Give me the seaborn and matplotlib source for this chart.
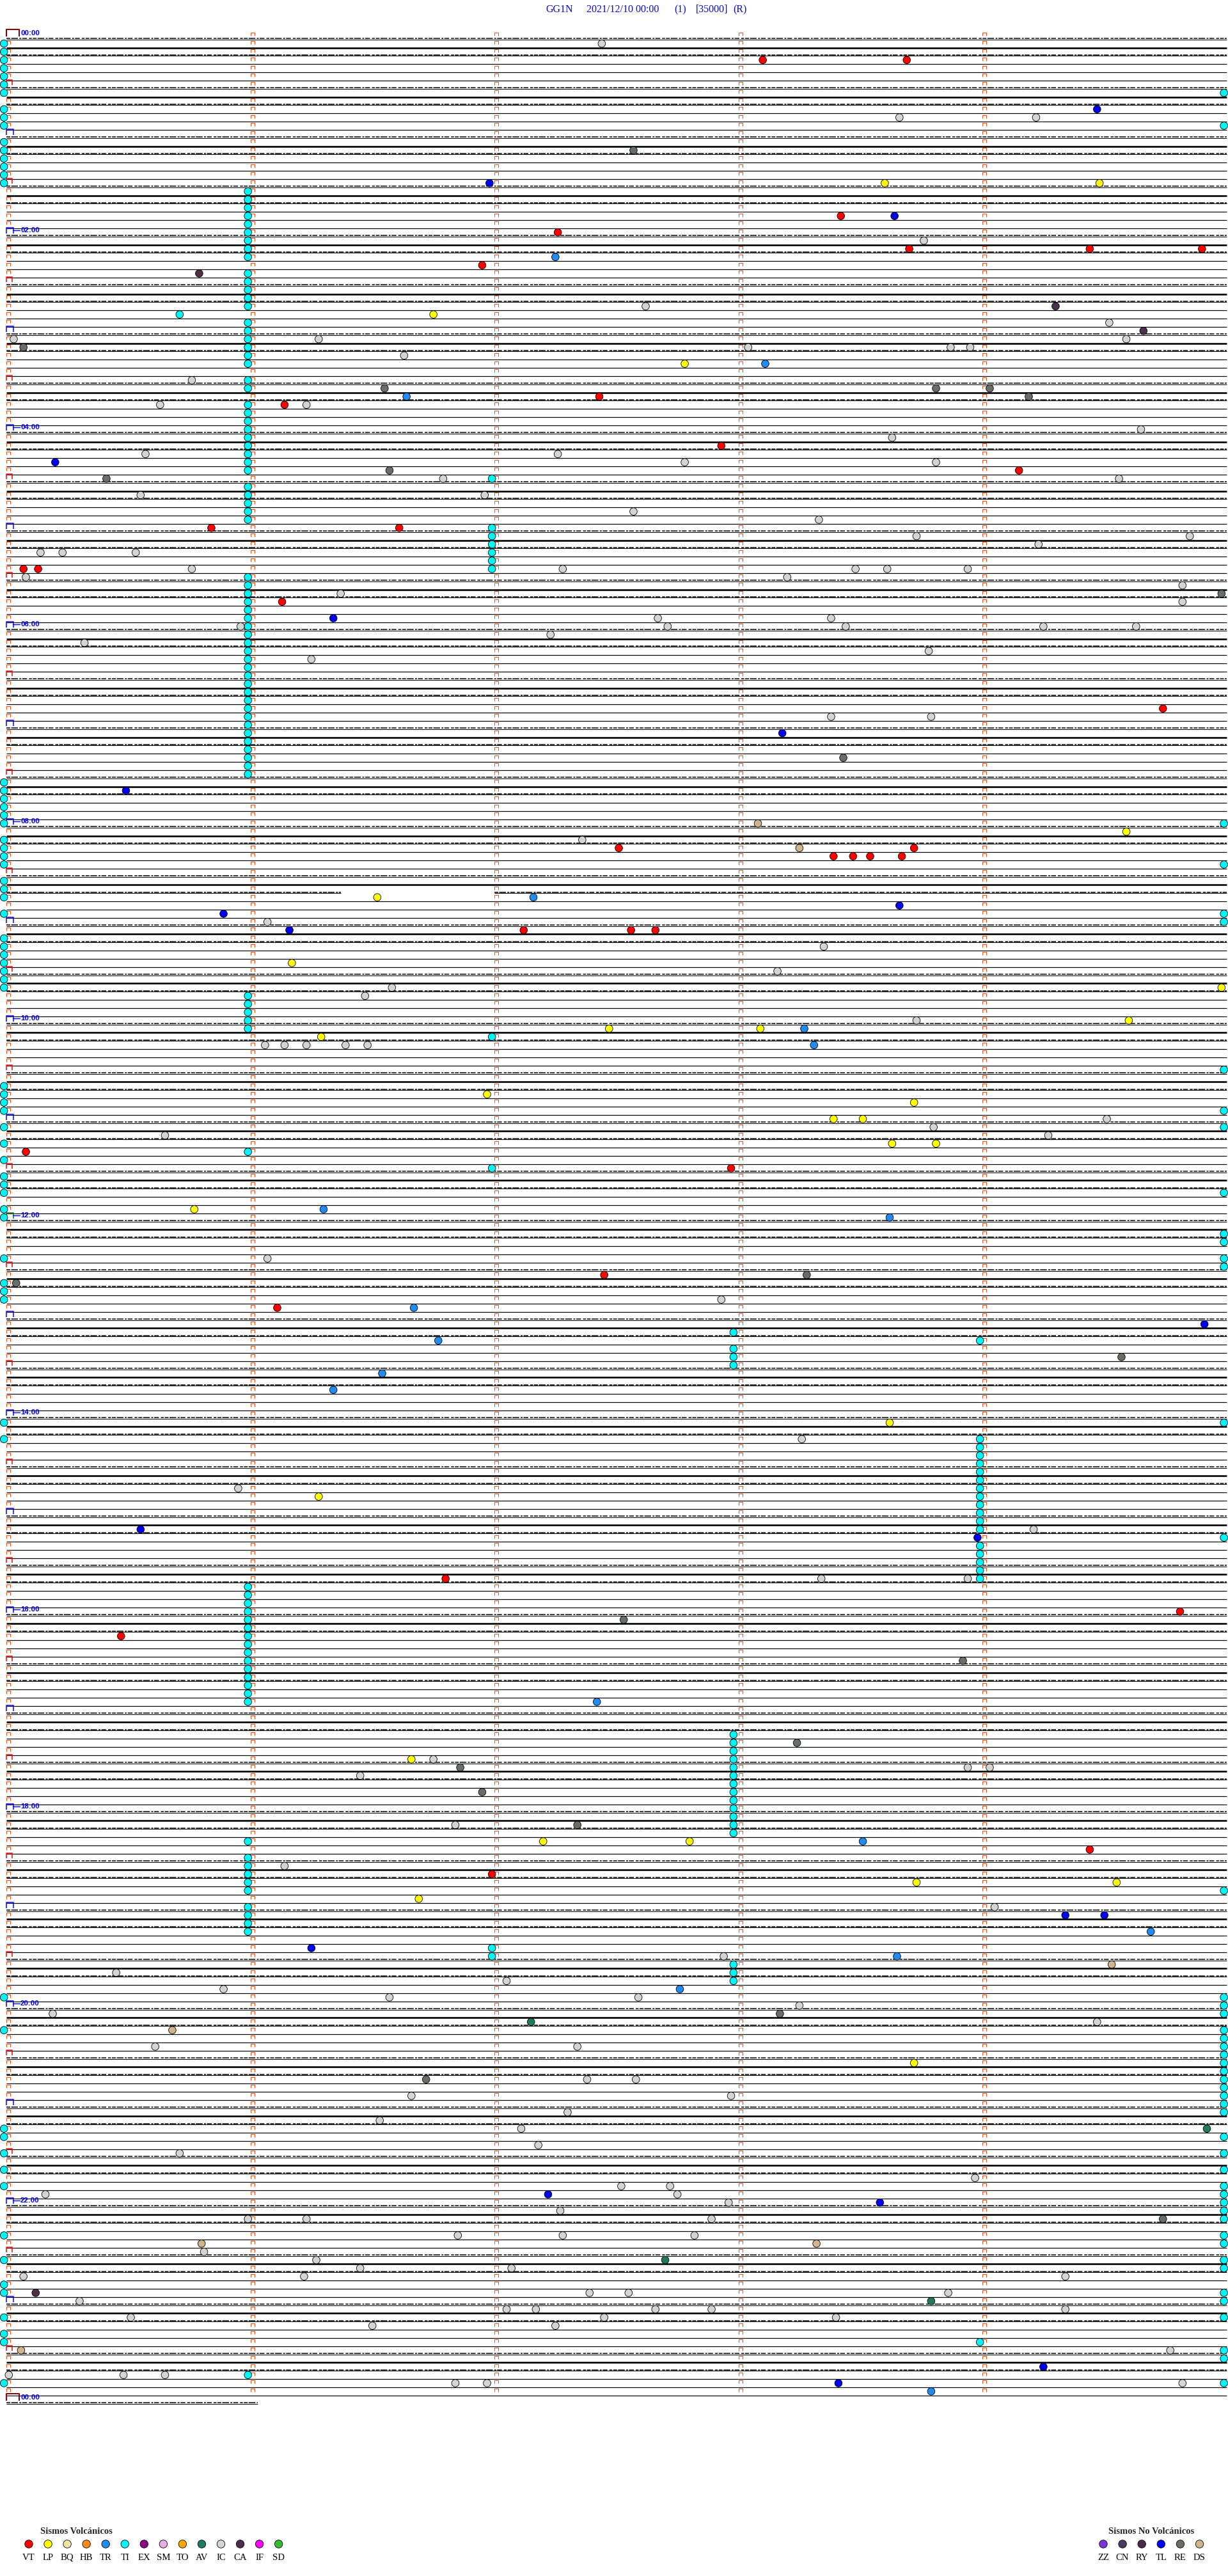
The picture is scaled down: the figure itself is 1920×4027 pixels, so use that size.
import matplotlib
matplotlib.use("Agg")
import matplotlib.pyplot as plt
from matplotlib.path import Path
import seaborn as sns
import pandas as pd

# Helicorder GG1N 2021/12/10: one trace = 5 minutes, 288 traces for the day.
# Events are (trace index, minute inside the trace).

station = "GG1N"
title_parts = ["GG1N", "2021/12/10 00:00", "(1)", "[35000]", "(R)"]
hour_labels = ["00:00", "02:00", "04:00", "06:00", "08:00", "10:00", "12:00",
               "14:00", "16:00", "18:00", "20:00", "22:00", "00:00"]
n_traces = 288
last_trace_end = 1.03          # the 24:00 trace only has its first minute
gaps = [(104, 1.37, 2.0)]      # missing data (trace, from minute, to minute)

volc_codes = ["VT", "LP", "BQ", "HB", "TR", "TI", "EX", "SM", "TO", "AV", "IC", "CA", "IF", "SD"]
novolc_codes = ["ZZ", "CN", "RY", "TL", "RE", "DS"]
palette = {"VT": "#FF0000", "LP": "#FFFF00", "BQ": "#F3E4A8", "HB": "#FF8A1C", "TR": "#1E8CF0",
           "TI": "#00F5F5", "EX": "#860A86", "SM": "#E6AEE6", "TO": "#FFA500", "AV": "#1F7A5E",
           "IC": "#D4D4D4", "CA": "#4B2F4B", "IF": "#FF00FF", "SD": "#30BE30",
           "ZZ": "#7A36D6", "CN": "#4A3A62", "RY": "#4C2A4A", "TL": "#0000F0", "RE": "#6A6E6A",
           "DS": "#D2B48C"}

# tremor (TI) flags, listed per column position
TI_START = [1, 2, 3, 4, 5, 6, 7, 9, 10, 11, 13, 14, 15, 16, 17, 18, 91, 92, 93, 94, 95, 96, 98, 99,
            100, 101, 103, 104, 105, 107, 110, 111, 112, 113, 114, 115, 116, 128, 129, 130, 131,
            133, 135, 137, 139, 140, 141, 143, 144, 149, 152, 153, 154, 169, 171, 239, 243, 255,
            256, 258, 260, 262, 268, 271, 274, 275, 278, 280, 281, 286]
TI_MIN1 = [19, 20, 21, 22, 23, 24, 25, 26, 27, 29, 30, 31, 32, 33, 35, 36, 37, 38, 39, 40, 42, 43,
           45, 46, 47, 48, 49, 50, 51, 52, 53, 55, 56, 57, 58, 59, 66, 67, 68, 69, 70, 71, 72, 73,
           74, 75, 76, 77, 78, 79, 80, 81, 82, 83, 84, 85, 86, 87, 88, 89, 90, 117, 118, 119, 120,
           121, 136, 189, 190, 191, 192, 193, 194, 195, 196, 197, 198, 199, 200, 201, 202, 203,
           220, 222, 223, 224, 225, 226, 228, 229, 230, 231, 285]
TI_MIN2 = [54, 60, 61, 62, 63, 64, 65, 122, 138, 233, 234]
TI_MIN3 = [158, 160, 161, 162, 207, 208, 209, 210, 211, 212, 213, 214, 215, 216, 217, 218, 219,
           235, 236, 237]
TI_MIN4 = [159, 171, 172, 173, 174, 175, 176, 177, 178, 179, 180, 181, 182, 184, 185, 186, 187,
           188, 281]
TI_END = [7, 11, 96, 101, 107, 108, 126, 131, 133, 141, 146, 147, 149, 150, 169, 183, 226, 239,
          240, 241, 243, 244, 245, 246, 247, 248, 249, 250, 251, 252, 253, 256, 258, 260, 262,
          263, 264, 265, 266, 268, 269, 271, 272, 275, 276, 278, 282, 283, 286]
TI_OTHER = [(34, 0.71)]

VT = [(3, 3.10), (3, 3.69), (22, 3.42), (24, 2.26), (26, 3.70), (26, 4.44), (26, 4.90), (28, 1.95),
      (44, 2.43), (45, 1.14), (50, 2.93), (53, 4.15), (60, 0.84), (60, 1.61), (65, 0.07),
      (65, 0.13), (69, 1.13), (82, 4.74), (99, 2.51), (99, 3.72), (100, 3.39), (100, 3.47),
      (100, 3.54), (100, 3.67), (109, 2.12), (109, 2.56), (109, 2.66), (136, 0.08), (138, 2.97),
      (151, 2.45), (155, 1.11), (188, 1.80), (192, 4.81), (195, 0.47), (221, 4.44), (224, 1.99)]
LP = [(18, 3.60), (18, 4.48), (34, 1.75), (40, 2.78), (97, 4.59), (105, 1.52), (113, 1.17),
      (116, 4.98), (120, 4.60), (121, 2.47), (121, 3.09), (122, 1.29), (129, 1.97), (130, 3.72),
      (132, 3.39), (132, 3.51), (135, 3.63), (135, 3.81), (143, 0.77), (169, 3.62), (178, 1.28),
      (210, 1.66), (220, 2.20), (220, 2.80), (225, 3.73), (225, 4.55), (227, 1.69), (247, 3.72)]
TR = [(27, 2.25), (40, 3.11), (44, 1.64), (105, 2.16), (121, 3.27), (123, 3.31), (143, 1.30),
      (144, 3.62), (155, 1.67), (159, 1.77), (163, 1.54), (165, 1.34), (203, 2.42), (220, 3.51),
      (231, 4.69), (234, 3.65), (238, 2.76), (287, 3.79)]
TL = [(9, 4.47), (18, 1.98), (22, 3.64), (52, 0.20), (71, 1.34), (85, 3.18), (92, 0.49),
      (106, 3.66), (107, 0.89), (109, 1.16), (157, 4.91), (182, 0.55), (183, 3.98), (229, 4.34),
      (229, 4.50), (233, 1.25), (263, 2.22), (264, 3.58), (284, 4.25), (286, 3.41)]
RE = [(14, 2.57), (38, 0.07), (43, 1.55), (43, 3.81), (43, 4.03), (44, 4.19), (53, 1.57),
      (54, 0.41), (68, 4.98), (88, 3.43), (151, 3.28), (152, 0.04), (161, 4.57), (193, 2.53),
      (198, 3.92), (208, 3.24), (211, 1.86), (214, 1.95), (218, 2.34), (241, 3.17), (249, 1.72),
      (266, 4.74)]
CA = [(29, 0.79), (33, 4.30), (36, 4.66), (275, 0.12)]
DS = [(96, 3.08), (99, 3.25), (235, 4.53), (243, 0.68), (269, 0.80), (269, 3.32), (282, 0.06)]
AV = [(242, 2.15), (255, 4.92), (271, 2.70), (276, 3.79)]
IC = [(1, 2.44), (10, 3.66), (10, 4.22), (25, 3.76), (33, 2.62), (35, 4.52), (37, 0.03), (37, 1.28),
      (37, 4.59), (38, 3.04), (38, 3.87), (38, 3.95), (39, 1.63), (42, 0.76), (45, 0.63),
      (45, 1.23), (48, 4.65), (49, 3.63), (51, 0.57), (51, 2.26), (52, 2.78), (52, 3.81),
      (54, 1.79), (54, 4.56), (56, 0.55), (56, 1.96), (58, 2.57), (59, 3.33), (61, 3.73),
      (61, 4.85), (62, 4.23), (63, 0.14), (63, 0.23), (63, 0.53), (65, 0.76), (65, 2.28),
      (65, 3.48), (65, 3.61), (65, 3.94), (66, 0.08), (66, 3.20), (67, 4.82), (68, 1.37),
      (69, 4.82), (71, 2.67), (71, 3.38), (72, 0.96), (72, 2.71), (72, 3.44), (72, 4.25),
      (72, 4.63), (73, 2.23), (74, 0.32), (75, 3.78), (76, 1.25), (83, 3.38), (83, 3.79),
      (98, 2.36), (108, 1.07), (111, 3.35), (114, 3.16), (116, 1.58), (117, 1.47), (120, 3.73),
      (123, 1.06), (123, 1.14), (123, 1.23), (123, 1.39), (123, 1.48), (132, 4.51), (133, 3.80),
      (134, 0.65), (134, 4.27), (149, 1.07), (154, 2.93), (171, 3.26), (177, 0.95), (182, 4.21),
      (188, 3.34), (188, 3.94), (210, 1.75), (211, 3.94), (211, 4.03), (212, 1.45), (218, 1.84),
      (223, 1.14), (228, 4.05), (234, 2.94), (236, 0.45), (237, 2.05), (238, 0.89), (239, 1.57),
      (239, 2.59), (240, 3.25), (241, 0.19), (242, 4.47), (245, 0.61), (245, 2.34), (249, 2.38),
      (249, 2.58), (251, 1.66), (251, 2.97), (253, 2.30), (254, 1.53), (255, 2.11), (257, 2.18),
      (258, 0.71), (261, 3.97), (262, 2.52), (262, 2.72), (263, 0.16), (263, 2.75), (264, 2.96),
      (265, 2.27), (266, 0.99), (266, 1.23), (266, 2.89), (268, 1.85), (268, 2.28), (268, 2.82),
      (270, 0.81), (271, 1.27), (272, 1.45), (272, 2.07), (273, 0.07), (273, 1.22), (273, 4.34),
      (275, 2.39), (275, 2.55), (275, 3.86), (276, 0.30), (277, 2.05), (277, 2.17), (277, 2.66),
      (277, 2.89), (277, 4.34), (278, 0.51), (278, 2.45), (278, 3.40), (279, 1.50), (279, 2.25),
      (282, 4.77), (285, 0.01), (285, 0.48), (285, 0.65), (286, 1.84), (286, 1.97), (286, 4.82)]

# ---------------------------------------------------------------- layout (pixels)
W, H, DPI = 1920, 4027, 100
X0, PX_MIN = 10.0, 381.5       # x of minute 0, pixels per minute
Y0, PX_LINE = 61.7, 12.833     # y of first trace, pixels between traces


def px_m(p):
    return p / PX_MIN


def px_l(p):
    return p / PX_LINE


sns.set_style("white")
plt.rcParams["font.family"] = ["Liberation Serif", "DejaVu Serif"]

fig = plt.figure(figsize=(W / DPI, H / DPI), dpi=DPI, facecolor="white")
ax = fig.add_axes([0, 0, 1, 1])
ax.axis("off")

# ---------------------------------------------------------------- traces
trace_style = ["rough", "thick", "rough", "thin", "thin", "thin"]
segs = {"rough": ([], [], []), "thick": ([], [], []), "thin": ([], [], [])}
for k in range(n_traces + 1):
    end = 5.0 if k < n_traces else last_trace_end
    start = 0.0
    st = segs[trace_style[k % 6]]
    for t, a, b in gaps:
        if t == k:
            st[0].append(k); st[1].append(start); st[2].append(a)
            start = b
    st[0].append(k); st[1].append(start); st[2].append(end)

ax.hlines(*segs["thin"], colors="black", lw=1.2 * 0.72, zorder=1)
ax.hlines(*segs["thick"], colors="black", lw=2.6 * 0.72, zorder=1)
ax.hlines(*segs["rough"], colors="black", lw=1.0 * 0.72, zorder=1)
ax.hlines([y - px_l(1.3) for y in segs["rough"][0]], segs["rough"][1], segs["rough"][2],
          colors="black", lw=1.5 * 0.72, zorder=1,
          linestyles=[(0, (4, 1, 7, 1.5, 2, 1, 5, 2, 3, 1))])


# ---------------------------------------------------------------- minute marks
def bracket(ratio):
    return Path([(0, -ratio), (0, 0), (1, 0), (1, -ratio)],
                [Path.MOVETO, Path.LINETO, Path.LINETO, Path.LINETO])


def draw_brackets(xs, ys, width_px, ratio, color, lw_px):
    ax.plot(xs, ys, ls="none", marker=bracket(ratio), ms=width_px * 1.44,
            mec=color, mfc="none", mew=lw_px * 0.72, zorder=2)


mx, my = [], []
for k in range(n_traces):
    for m in range(5):
        if m == 0 and k % 6 == 0:
            continue
        mx.append(m)
        my.append(k - px_l(10.5))
draw_brackets(mx, my, 6, 5 / 6, "#FF4A12", 1.0)

half = [k for k in range(n_traces) if k % 12 == 6]
draw_brackets([0] * len(half), [k - px_l(13.7) for k in half], 9, 0.9, "#FF0000", 1.5)
hours = [k for k in range(12, n_traces, 12) if k != 144]
draw_brackets([0] * len(hours), [k - px_l(13.7) for k in hours], 11, 0.85, "#0000FF", 1.5)
draw_brackets([0], [144 - px_l(13.7)], 11, 0.85, "#007A00", 1.5)
draw_brackets([0, 0], [0 - px_l(15.7), n_traces - px_l(15.7)], 20, 0.55, "#8B0000", 2.0)

for i, lab in enumerate(hour_labels):
    k = 24 * i
    yk = k - px_l(10)
    if 0 < k < n_traces:
        ax.plot([px_m(10), px_m(21)], [yk, yk], color="#0000FF", lw=1.0, zorder=2)
    ax.text(px_m(22), yk, lab, color="#0000FF", fontsize=8.2, fontweight="bold",
            family=["Liberation Sans", "DejaVu Sans"], ha="left", va="center", zorder=5)

# ---------------------------------------------------------------- events
rows = []
for col_min, lines in [(-0.01, TI_START), (0.99, TI_MIN1), (1.99, TI_MIN2), (2.98, TI_MIN3),
                       (3.99, TI_MIN4), (4.99, TI_END)]:
    rows += [("TI", col_min, k) for k in lines]
for code, evs in [("TI", TI_OTHER), ("IC", IC), ("RE", RE), ("CA", CA), ("DS", DS), ("AV", AV),
                  ("VT", VT), ("LP", LP), ("TR", TR), ("TL", TL)]:
    rows += [(code, m, k) for k, m in evs]
events = pd.DataFrame(rows, columns=["tipo", "minuto", "traza"])
events["y"] = events["traza"] - 0.5

sns.scatterplot(data=events, x="minuto", y="y", hue="tipo", palette=palette, s=70,
                edgecolor="black", linewidth=0.6, legend=False, zorder=4, ax=ax)

ax.set_xlim(-X0 / PX_MIN, (W - X0) / PX_MIN)
ax.set_ylim((H - Y0) / PX_LINE, -Y0 / PX_LINE)
ax.axis("off")

# ---------------------------------------------------------------- title and legend (pixel axes)
lax = fig.add_axes([0, 0, 1, 1])
title_x = [853, 917, 1054, 1088, 1146]
for txt, x in zip(title_parts, title_x):
    lax.text(x, 15, txt, color="#0A0AF0", fontsize=11.5, ha="left", va="center")

vx = [45 + 30.05 * i for i in range(len(volc_codes))]
nx = [1725 + 30.1 * i for i in range(len(novolc_codes))]
sns.scatterplot(x=vx + nx, y=[3977] * (len(vx) + len(nx)), hue=volc_codes + novolc_codes,
                palette=palette, s=80, edgecolor="black", linewidth=0.6, legend=False, ax=lax)
for x, c in zip(vx + nx, volc_codes + novolc_codes):
    lax.text(x, 3998, c, fontsize=10.6, ha="center", va="center", color="black")
lax.text(63, 3957, "Sismos Volcánicos", fontsize=10.5, fontweight="bold", ha="left", va="center")
lax.text(1733, 3957, "Sismos No Volcánicos", fontsize=10.5, fontweight="bold", ha="left",
         va="center")
lax.set_xlim(0, W)
lax.set_ylim(H, 0)
lax.axis("off")

fig.savefig("out.png", dpi=DPI, facecolor="white")
